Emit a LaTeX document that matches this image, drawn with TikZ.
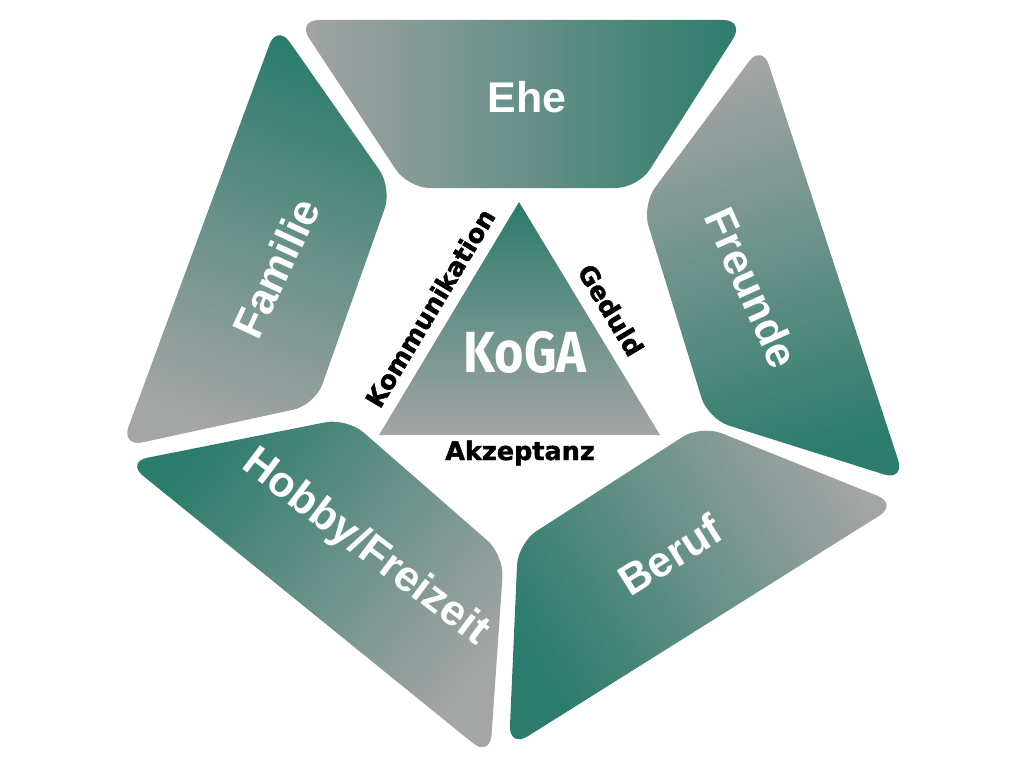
\documentclass[tikz,border=0pt]{standalone}
\usepackage{fontspec}
\setmainfont{Liberation Sans}
\newfontfamily\sidefont[BoldFeatures={FakeBold=1.6}]{DejaVu Sans}
\newfontfamily\kogafont{Fira Sans}

\definecolor{koteal}{RGB}{43,124,108}
\definecolor{kogrey}{RGB}{164,165,165}

\begin{document}
\begin{tikzpicture}[
    x=1pt,y=-1pt,
    segment/.style={
      rounded corners=22pt,
      top color=koteal,bottom color=kogrey,
      shading angle=#1
    },
    seglabel/.style={
      text=white,font=\fontsize{43}{46}\selectfont\bfseries,
      inner sep=0pt
    },
    sidelabel/.style={
      text=black,font=\sidefont\fontsize{25.5}{28}\selectfont\bfseries,
      inner sep=0pt
    }
  ]
    \useasboundingbox (0,0) rectangle (1024,768);

    % the five segments
    \shade[segment=-90] (297,20) -- (745,20) -- (638,188) -- (408,188) -- cycle;
    \shade[segment=-20] (277,24) -- (392,188) -- (315,405) -- (121,447) -- cycle;
    \shade[segment=-162] (762,44) -- (905,481) -- (708,419) -- (642,205) -- cycle;
    \shade[segment=51] (126,462) -- (347,418) -- (504,555) -- (490,757) -- cycle;
    \shade[segment=122] (509,748) -- (898,504) -- (701,425) -- (518,543) -- cycle;

    \node[seglabel] (Ehe) at (527,97) {Ehe};
    \node[seglabel,rotate=65] (Familie) at (276,268) {Familie};
    \node[seglabel,rotate=-66] (Freunde) at (752,288) {Freunde};
    \node[seglabel,rotate=-37] (Hobby) at (365,548) {Hobby/Freizeit};
    \node[seglabel,rotate=32] (Beruf) at (670,555) {Beruf};

    % triangle in the middle
    \shade[top color=koteal,bottom color=kogrey] (519,202) -- (660,435) -- (379,435) -- cycle;
    \node[text=white,inner sep=0pt,font=\kogafont\fontsize{58}{60}\selectfont\bfseries] (KoGA) at (525,352) {\scalebox{0.87}[1]{KoGA}};

    \node[sidelabel,rotate=59] (Kommunikation) at (430,308) {Kommunikation};
    \node[sidelabel,rotate=-59] (Geduld) at (611,310) {Geduld};
    \node[sidelabel,anchor=base] (Akzeptanz) at (520,460) {Akzeptanz};
  \end{tikzpicture}
\end{document}
